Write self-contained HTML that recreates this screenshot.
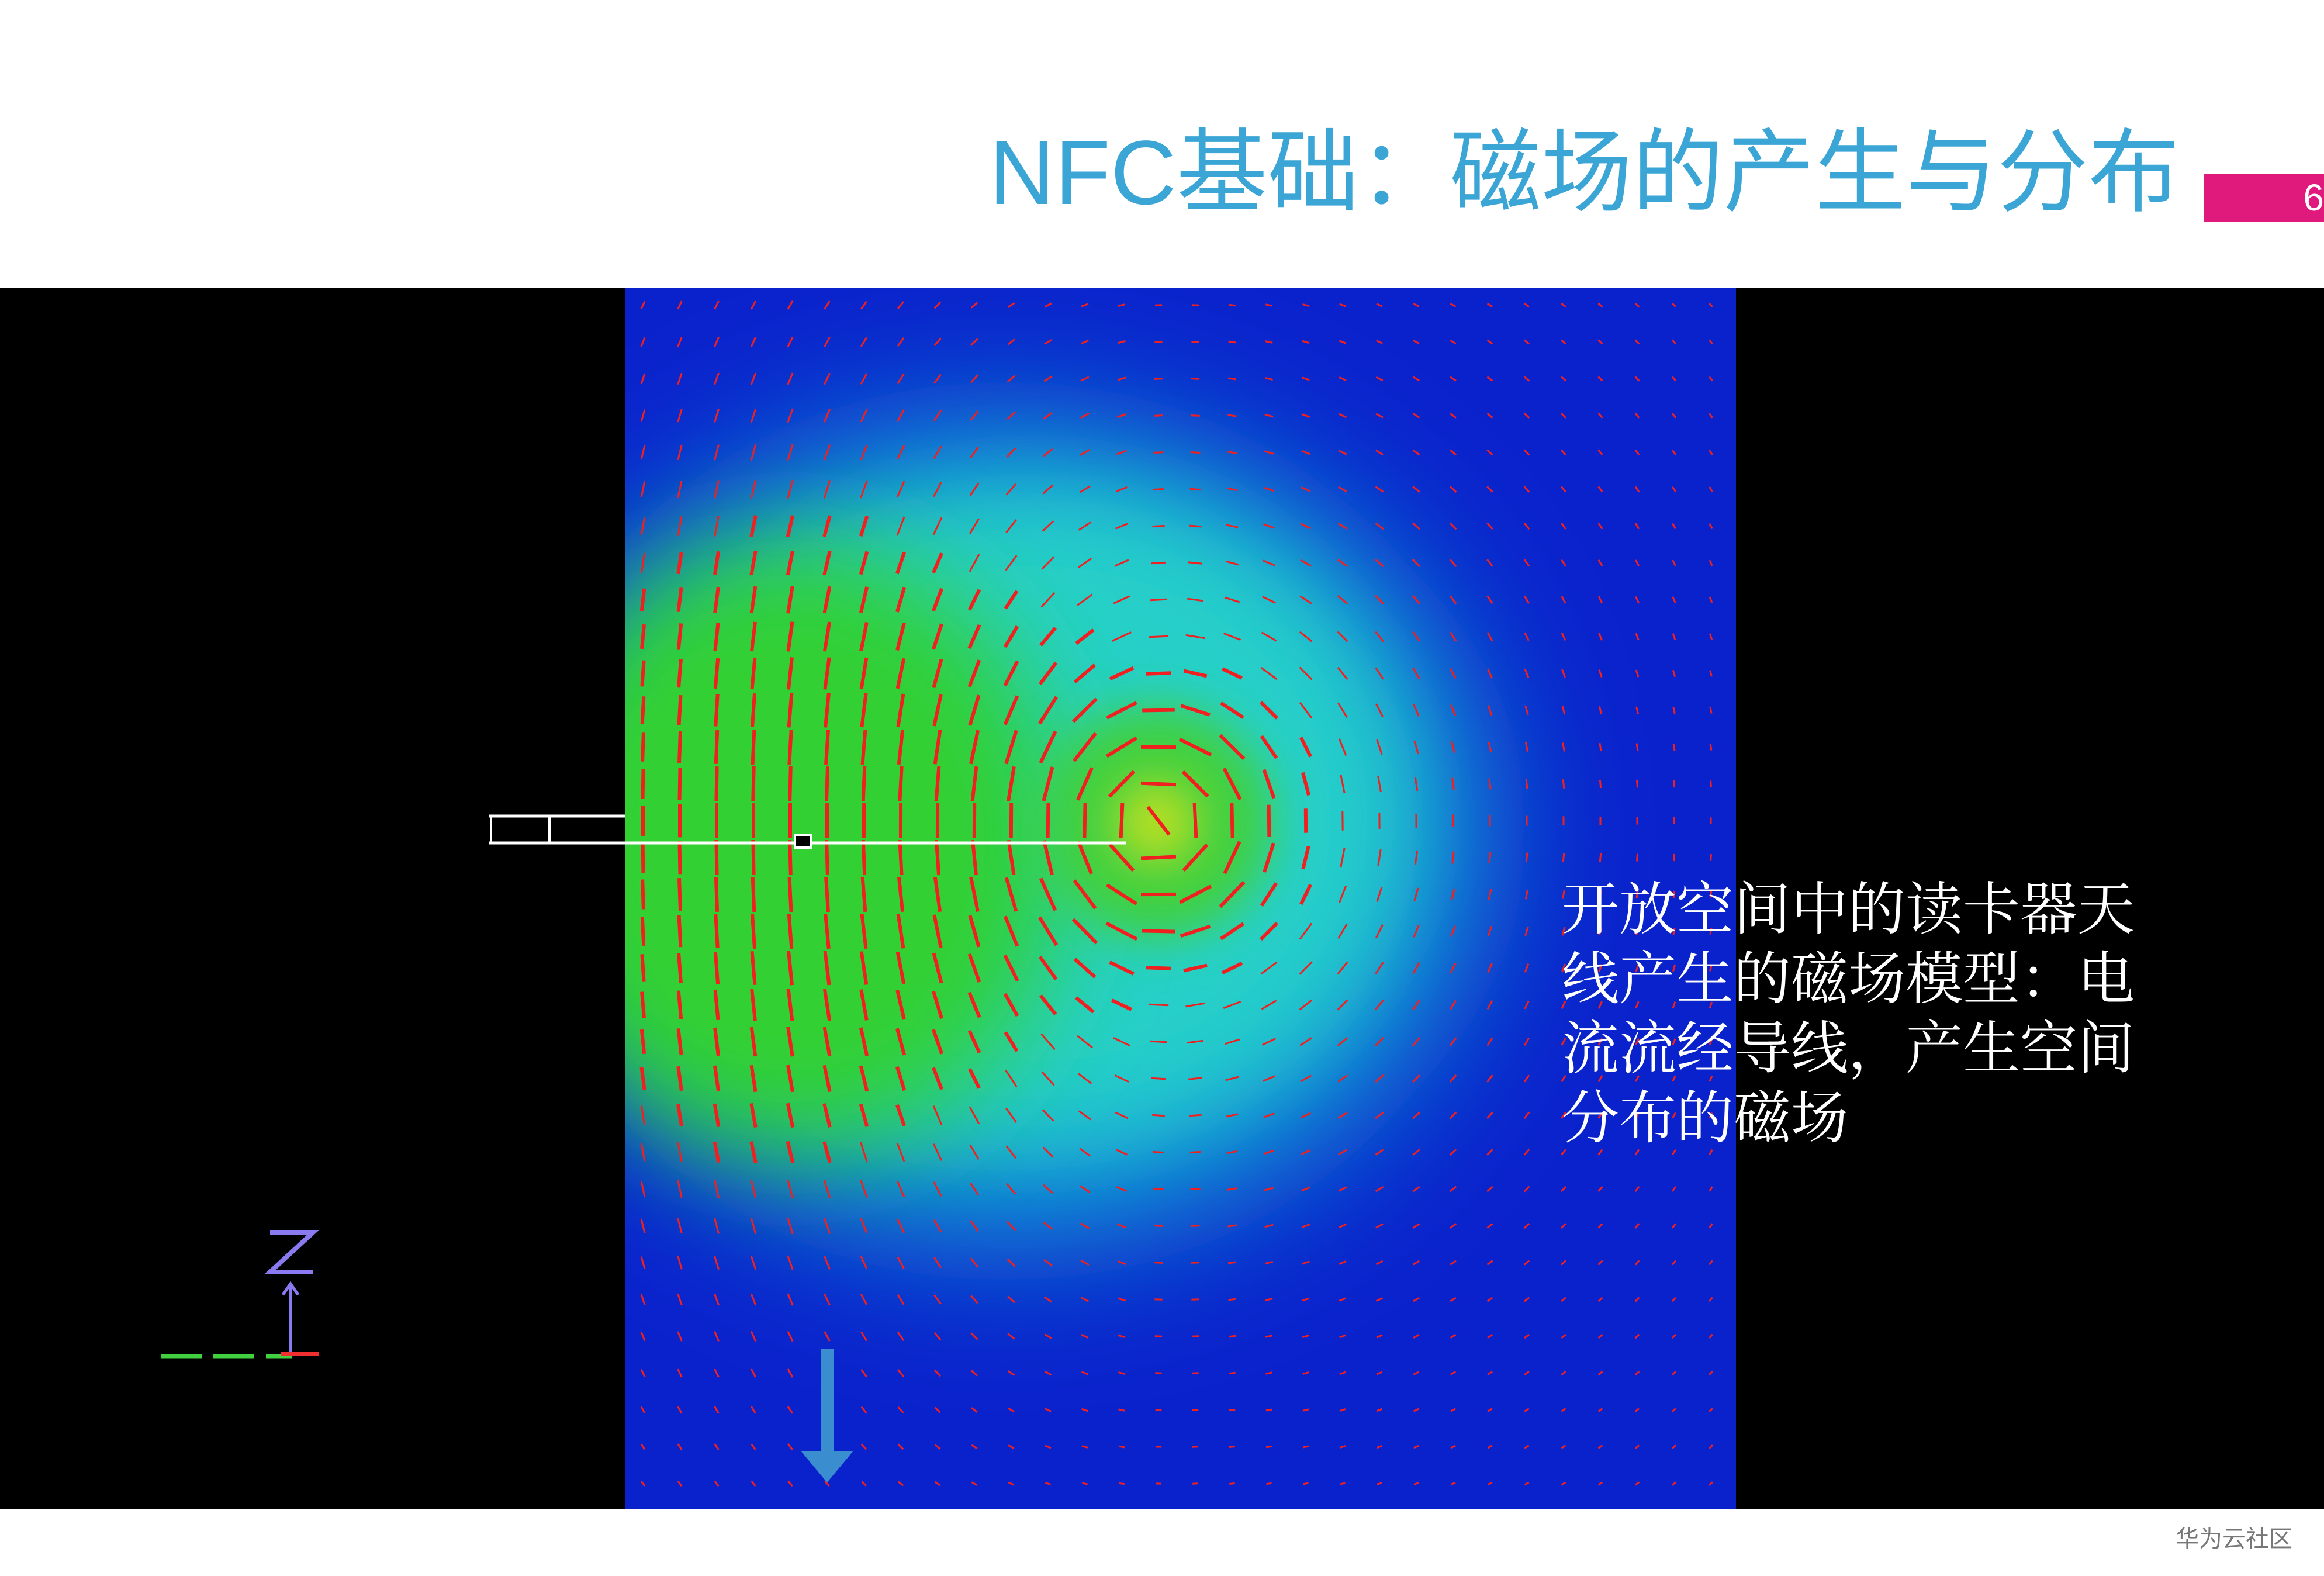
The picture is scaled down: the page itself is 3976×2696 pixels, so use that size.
<!DOCTYPE html>
<html><head><meta charset="utf-8"><style>
html,body{margin:0;padding:0;width:3976px;height:2696px;background:#fff;overflow:hidden;position:relative;font-family:"Liberation Sans","Noto Sans CJK SC",sans-serif}
#title{position:absolute;left:1692px;top:218px;font-size:156px;color:#3ba6d6;white-space:nowrap;line-height:1;font-family:"Liberation Sans","Noto Sans CJK SC",sans-serif}
#pg{position:absolute;left:3771px;top:297px;width:205px;height:83px;background:#e0197d;color:#fff;font-size:64px;text-align:right;line-height:83px}
#blk{position:absolute;left:0;top:492px;width:3976px;height:2090px;background:#000}
#plot{position:absolute;left:1070px;top:492px}
#txt{position:absolute;left:2672px;top:1498px;width:1020px;color:#fff;font-size:98px;line-height:119px;font-family:"Liberation Serif","Noto Serif CJK SC",serif}
#foot{position:absolute;left:3722px;top:2600px;font-size:40px;color:#777}
</style></head><body>
<div id="title">NFC基础：磁场的产生与分布</div>
<div id="pg">6</div>
<div id="blk"></div>
<svg id="plot" width="1900" height="2090" viewBox="0 0 1900 2090">
<defs>
<filter id="b1" x="-50%" y="-50%" width="200%" height="200%"><feGaussianBlur stdDeviation="140"/></filter>
<filter id="b2" x="-50%" y="-50%" width="200%" height="200%"><feGaussianBlur stdDeviation="90"/></filter>
<filter id="b3" x="-50%" y="-50%" width="200%" height="200%"><feGaussianBlur stdDeviation="40"/></filter>
</defs>
<rect width="1900" height="2090" fill="#0a22cc"/>
<ellipse cx="650" cy="930" rx="800" ry="680" fill="#18b8d8" filter="url(#b1)"/>
<ellipse cx="700" cy="900" rx="620" ry="540" fill="#28d0c8" filter="url(#b2)"/>
<ellipse cx="280" cy="960" rx="470" ry="520" fill="#30d030" filter="url(#b2)"/>
<circle cx="908" cy="915" r="200" fill="#40d040" filter="url(#b3)"/>
<circle cx="908" cy="915" r="70" fill="#c0e020" filter="url(#b3)"/>
<g id="arr" stroke="#f02020" fill="none"></g>
<path d="M345 1816 V2000" stroke="#3a8ed0" stroke-width="22"/>
<path d="M300 1990 L345 2044 L390 1990 Z" fill="#3a8ed0"/>
</svg>
<svg style="position:absolute;left:0;top:0" width="3976" height="2696">
<path d="M837 1396 H1070 M837 1442 H1927" stroke="#fff" stroke-width="5"/>
<rect x="840" y="1396" width="100" height="46" fill="none" stroke="#fff" stroke-width="4"/>
<rect x="1360" y="1428" width="28" height="22" fill="#000" stroke="#fff" stroke-width="4"/>
<path d="M462 2108 H536 L462 2176 H536" stroke="#8a7af0" stroke-width="8" fill="none"/>
<path d="M497 2320 V2196 M484 2215 L497 2196 L510 2215" stroke="#8a7af0" stroke-width="5" fill="none"/>
<path d="M275 2320 H500" stroke="#40d040" stroke-width="7" stroke-dasharray="70,20"/>
<path d="M480 2316 H545" stroke="#f03030" stroke-width="7"/>
</svg>
<div id="txt">开放空间中的读卡器天线产生的磁场模型：电流流经导线，产生空间分布的磁场</div>
<div id="foot">华为云社区</div>
<script>
var g=document.getElementById('arr'),s='';
for(var x=30;x<1900;x+=63)for(var y=30;y<2090;y+=63){
 var dx=x-908,dy=y-915,r2=dx*dx+dy*dy+400;
 var bx=-dy/r2*9000,by=dx/r2*9000;
 var w=Math.exp(-Math.pow((x-250)/500,2))*Math.exp(-Math.pow((y-950)/700,2));
 by+= -40*w*(x<850?1:0.3);
 var m=Math.sqrt(bx*bx+by*by);if(m<1)continue;
 var L=Math.min(60,Math.max(8,m*1.2));
 var ux=bx/m*L/2,uy=by/m*L/2;
 var sw=m>30?6:3;
 s+='<line x1="'+(x-ux).toFixed(1)+'" y1="'+(y-uy).toFixed(1)+'" x2="'+(x+ux).toFixed(1)+'" y2="'+(y+uy).toFixed(1)+'" stroke-width="'+sw+'"/>';
}
g.innerHTML=s;
</script>
</body></html>
